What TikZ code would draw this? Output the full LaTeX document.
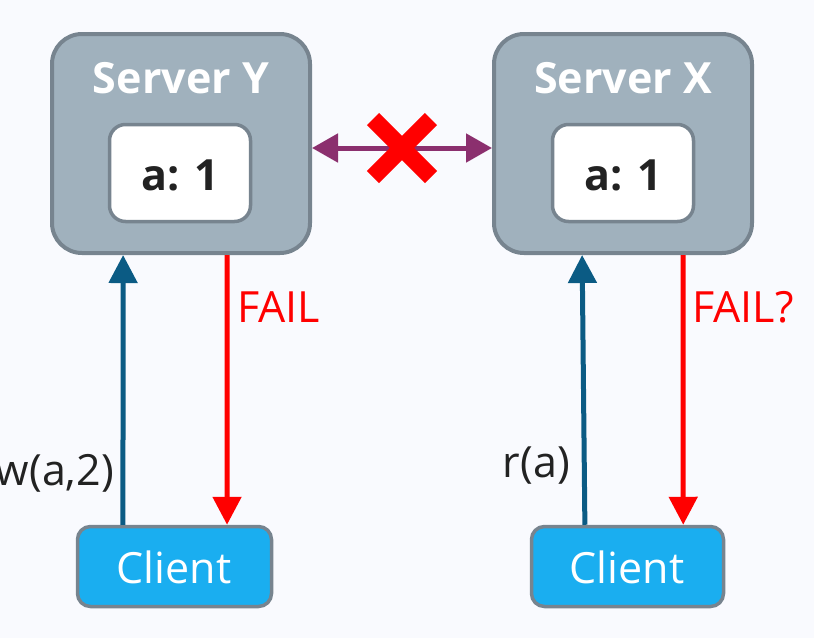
\documentclass[tikz,border=0pt]{standalone}
\usepackage{fontspec}
\setmainfont{Open Sans}
\usetikzlibrary{arrows.meta,calc}
\definecolor{bgc}{HTML}{F9FAFE}
\definecolor{srvfill}{HTML}{A0B1BD}
\definecolor{bordc}{HTML}{77848F}
\definecolor{clifill}{HTML}{1AAEF0}
\definecolor{bluearr}{HTML}{0B5B84}
\definecolor{purparr}{HTML}{8B2F6E}
\definecolor{redc}{HTML}{FF0000}
\definecolor{txtc}{HTML}{222222}
\tikzset{
  server/.style={draw=bordc, fill=srvfill, line width=4pt, rounded corners=30pt,
    minimum width=258pt, minimum height=219pt, inner sep=0pt},
  store/.style={draw=bordc, fill=white, line width=3.5pt, rounded corners=16pt,
    minimum width=141pt, minimum height=97pt, inner sep=0pt},
  client/.style={draw=bordc, fill=clifill, line width=3.5pt, rounded corners=13pt,
    minimum height=80pt, inner sep=0pt},
  title/.style={text=white, font=\fontsize{43}{50}\selectfont\bfseries, anchor=base, inner sep=0pt},
  storetxt/.style={text=txtc, font=\fontsize{43}{50}\selectfont\bfseries, anchor=base, inner sep=0pt},
  clitxt/.style={text=white, font=\fontsize{43}{50}\selectfont, anchor=base, inner sep=0pt},
  lbl/.style={text=txtc, font=\fontsize{43}{50}\selectfont, inner sep=0pt},
  faillbl/.style={text=redc, font=\fontsize{43}{50}\selectfont, inner sep=0pt, anchor=base west},
  req/.style={draw=bluearr, line width=5pt, -{Triangle[length=28pt,width=28pt]}},
  fail/.style={draw=redc, line width=5pt, -{Triangle[length=28pt,width=28pt]}},
  link/.style={draw=purparr, line width=5pt, {Triangle[length=26pt,width=28pt]}-{Triangle[length=26pt,width=28pt]}},
  cross/.style={draw=redc, line width=17pt, line cap=butt},
}
\begin{document}
\begin{tikzpicture}[x=1pt,y=-1pt]
\fill[bgc] (0,0) rectangle (814,638);
\useasboundingbox (0,0) rectangle (814,638);

% servers
\node[server] (sy) at (181,143.5) {};
\node[server] (sx) at (623,143.5) {};
\node[store] (vy) at (180,173) {};
\node[store] (vx) at (623,173) {};
\node[title] (ty) at (181,93) {Server Y};
\node[title] (tx) at (623,93) {Server X};
\node[storetxt] (ay) at (180,190) {a: 1};
\node[storetxt] (ax) at (623,190) {a: 1};

% clients
\node[client, minimum width=194pt] (cl) at (174.5,566.5) {};
\node[client, minimum width=192pt] (cr) at (627.5,566.5) {};
\node[clitxt] (clt) at (174,583) {Client};
\node[clitxt] (crt) at (627,583) {Client};

% link between servers
\draw[link] ($(sy.east)+(0,4.5)$) -- ($(sx.west)+(0,4.5)$);
\coordinate (xc) at ($(sy.east)!0.5!(sx.west)+(0,4.5)$);
\draw[cross] ($(xc)+(-29,-29)$) -- ($(xc)+(29,29)$);
\draw[cross] ($(xc)+(-29,29)$) -- ($(xc)+(29,-29)$);

% left side arrows
\draw[req] ($(cl.north west)!0.239!(cl.north east)$) -- ($(sy.south west)!0.279!(sy.south east)$);
\draw[fail] ($(sy.south west)!0.676!(sy.south east)$) -- ($(cl.north west)!0.766!(cl.north east)$);
% right side arrows
\draw[req] ($(cr.north west)!0.282!(cr.north east)$) -- ($(sx.south west)!0.344!(sx.south east)$);
\draw[fail] ($(sx.south west)!0.729!(sx.south east)$) -- ($(cr.north west)!0.785!(cr.north east)$);

% labels
\node[faillbl] (fl) at (237,322) {FAIL};
\node[faillbl] (fr) at (692,322) {FAIL?};
\node[lbl, anchor=base east] (wl) at (114,485) {w(a,2)};
\node[lbl, anchor=base east] (rl) at (570,477) {r(a)};
\end{tikzpicture}
\end{document}
